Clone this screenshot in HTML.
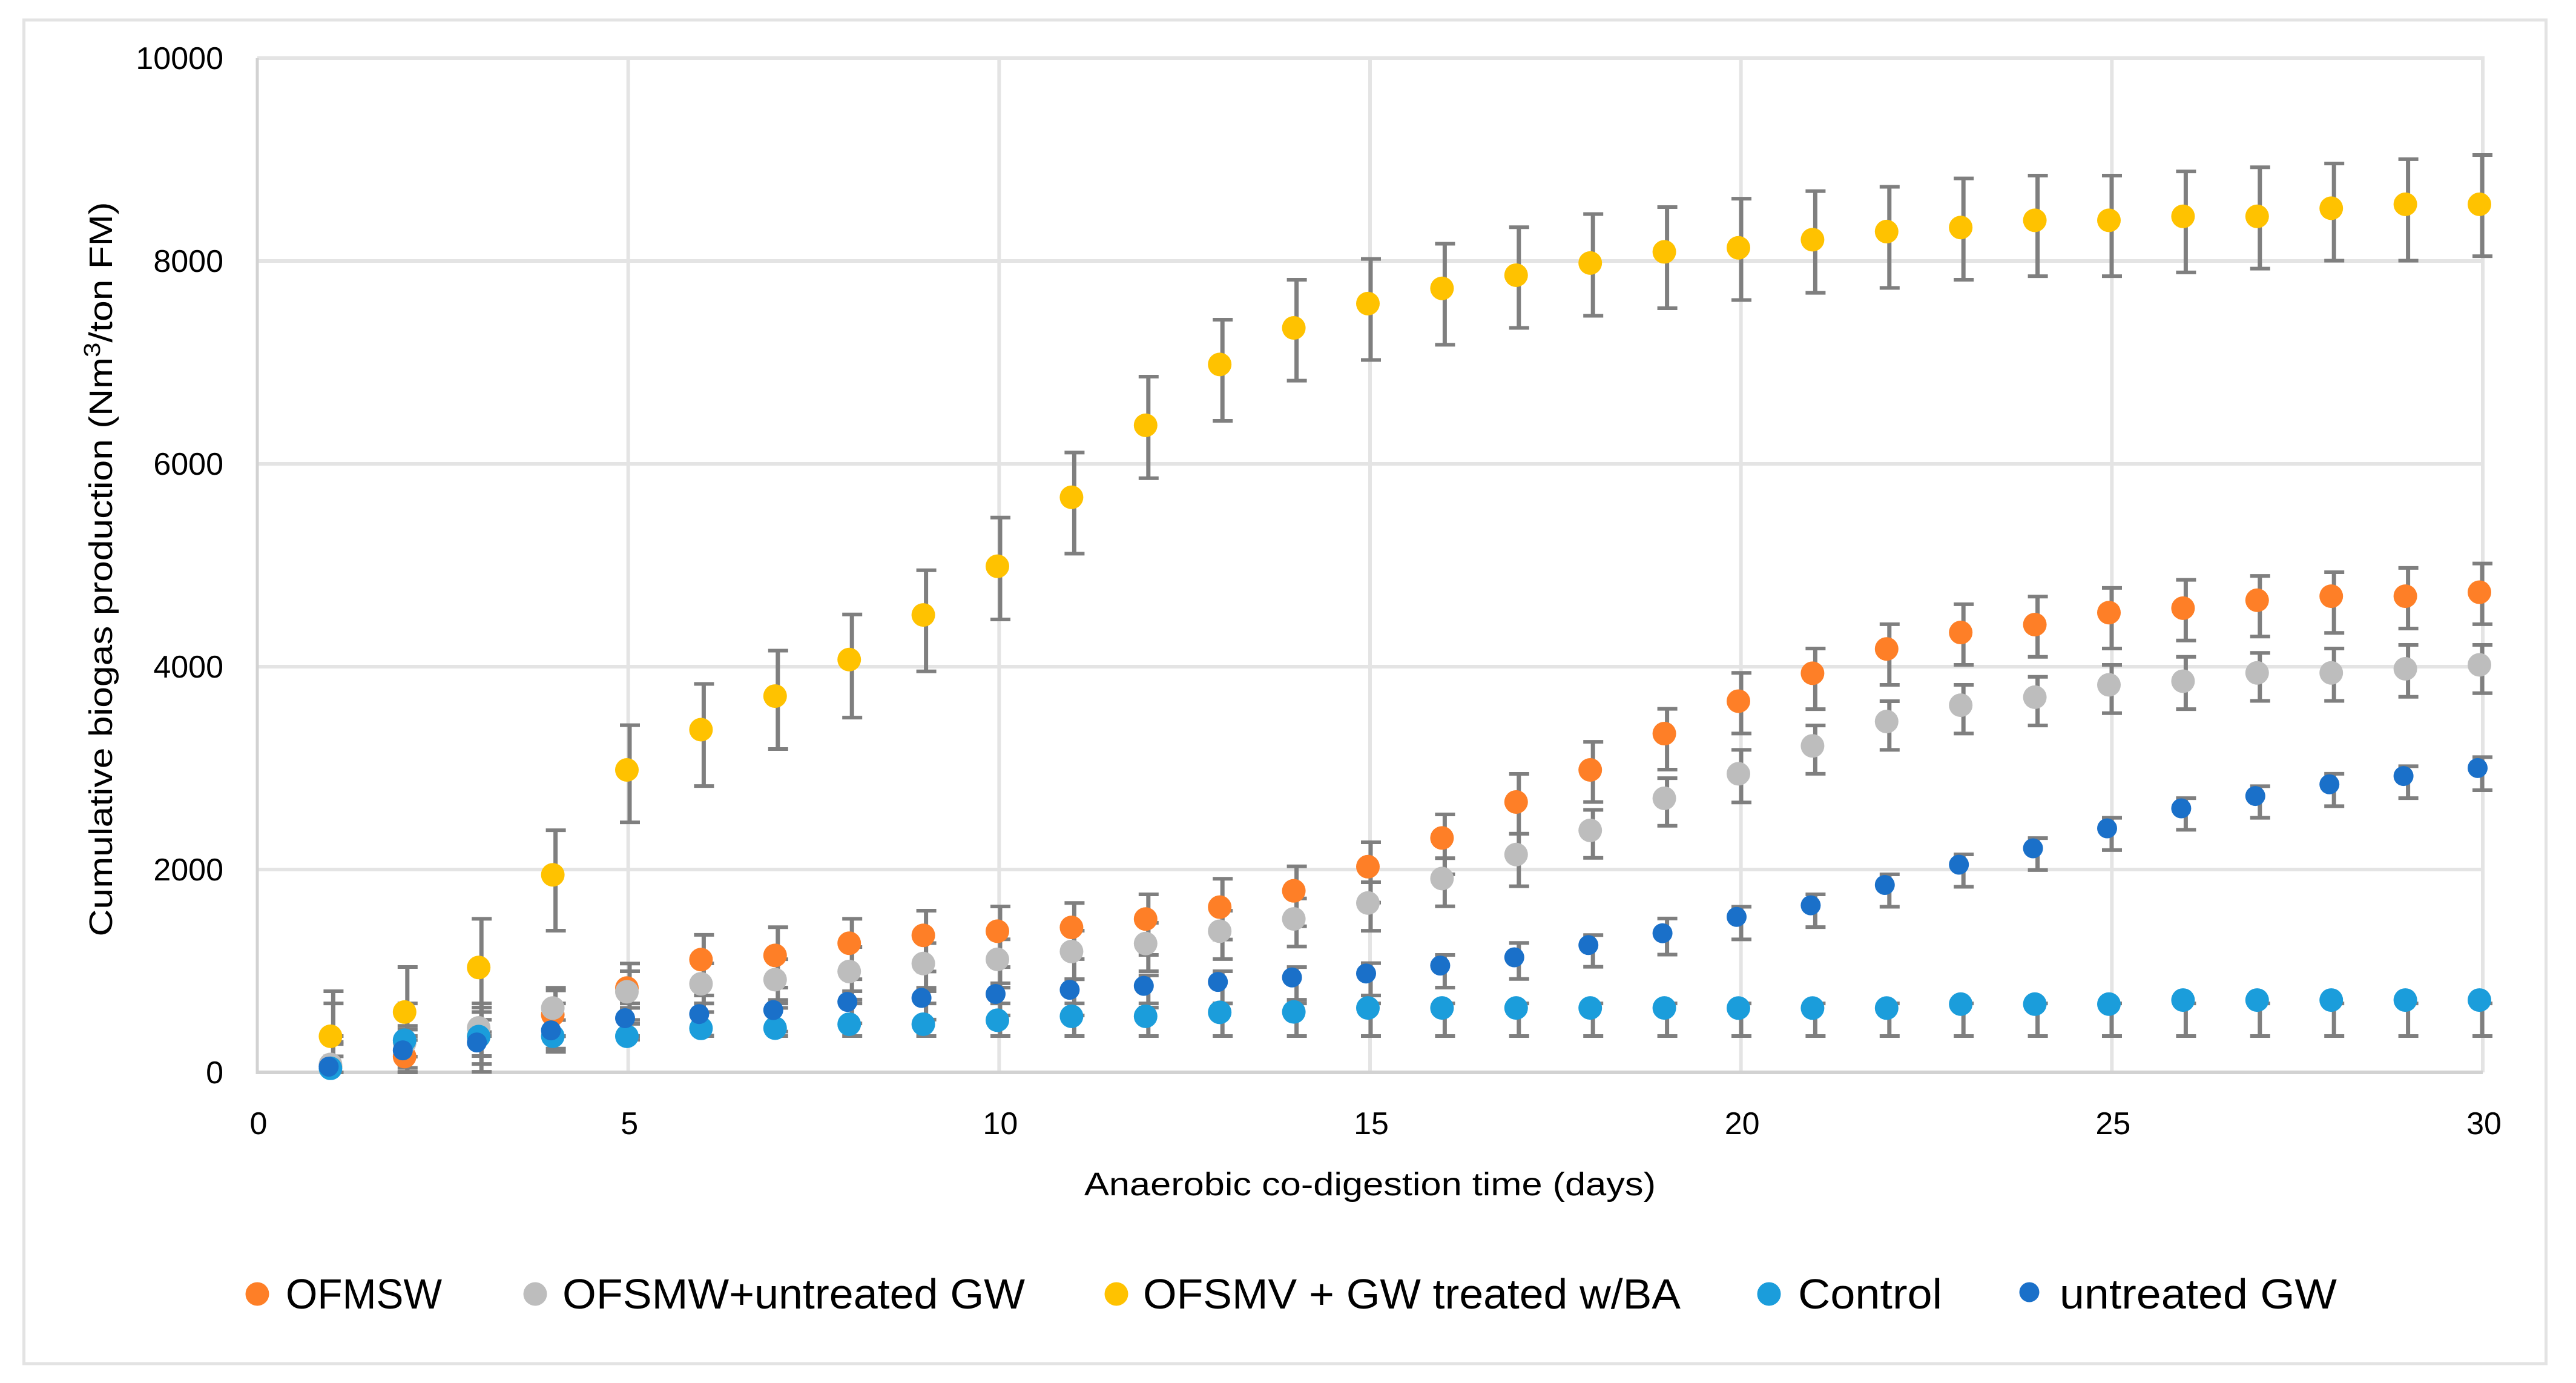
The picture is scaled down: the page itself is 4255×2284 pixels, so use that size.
<!DOCTYPE html>
<html lang="en">
<head>
<meta charset="utf-8">
<title>Cumulative biogas production</title>
<style>
html,body{margin:0;padding:0;background:#fff;}
svg{display:block;}
text{font-family:"Liberation Sans",sans-serif;fill:#000;}
</style>
</head>
<body>
<svg id="chart" xmlns="http://www.w3.org/2000/svg" width="4255" height="2284" viewBox="0 0 4255 2284">
  <rect x="0" y="0" width="4255" height="2284" fill="#fff"/>
  <rect x="39.5" y="33" width="4166" height="2219" fill="none" stroke="#E3E3E3" stroke-width="5"/>
  <g id="grid"></g>
  <g id="axes"></g>
  <g id="bars"></g>
  <g id="marks"></g>
  <g id="ticks" font-size="52"></g>
  <text transform="translate(185,940) rotate(-90)" text-anchor="middle" font-size="54" textLength="1213" lengthAdjust="spacingAndGlyphs">Cumulative biogas production (Nm<tspan font-size="38" dy="-20">3</tspan><tspan dy="20">/ton FM)</tspan></text>
  <text x="2263" y="1974" text-anchor="middle" font-size="54" textLength="944" lengthAdjust="spacingAndGlyphs">Anaerobic co-digestion time (days)</text>
  <g>
    <g>
      <circle cx="425" cy="2137" r="19.5" fill="#FE7F27"/>
      <text x="472" y="2161" font-size="70" textLength="258" lengthAdjust="spacingAndGlyphs">OFMSW</text>
    </g>
    <g>
      <circle cx="884" cy="2137" r="19.5" fill="#BDBDBD"/>
      <text x="929" y="2161" font-size="70" textLength="764" lengthAdjust="spacingAndGlyphs">OFSMW+untreated GW</text>
    </g>
    <g>
      <circle cx="1844" cy="2137" r="19.5" fill="#FFC200"/>
      <text x="1888" y="2161" font-size="70" textLength="888" lengthAdjust="spacingAndGlyphs">OFSMV + GW treated w/BA</text>
    </g>
    <g>
      <circle cx="2922" cy="2137" r="19.5" fill="#1B9DDB"/>
      <text x="2970" y="2161" font-size="70" textLength="238" lengthAdjust="spacingAndGlyphs">Control</text>
    </g>
    <g>
      <circle cx="3352" cy="2134" r="16.5" fill="#1A70C9"/>
      <text x="3402" y="2161" font-size="70" textLength="458" lengthAdjust="spacingAndGlyphs">untreated GW</text>
    </g>
  </g>
</svg>
<script>
// Categories and axis ticks
const days = [1,2,3,4,5,6,7,8,9,10,11,12,13,14,15,16,17,18,19,20,21,22,23,24,25,26,27,28,29,30];
const xTickLabels = [0,5,10,15,20,25,30];
const yTickLabels = [0,2000,4000,6000,8000,10000];

// OFMSW
const ofmswValues = [60,156,355,568,831,1112,1153,1273,1351,1392,1429,1512,1629,1790,2028,2311,2666,2982,3340,3660,3935,4175,4337,4415,4533,4577,4655,4695,4695,4734];
const ofmswErrUp = [240,266,240,240,242,244,278,241,243,244,241,243,280,241,241,232,277,277,244,279,244,244,279,276,244,279,240,236,279,283];
const ofmswErrDown = [350,350,350,334,353,354,317,354,356,354,312,354,319,350,354,358,313,316,355,319,354,354,319,318,354,319,358,362,319,315];

// OFSMW + untreated GW
const untreatedMixValues = [78,290,439,634,795,873,914,995,1073,1114,1192,1270,1392,1513,1670,1911,2148,2386,2702,2944,3219,3459,3620,3699,3821,3857,3939,3939,3979,4018];
const untreatedMixErrUp = [202,168,200,200,202,202,202,241,202,198,205,205,202,202,205,201,205,202,199,236,201,201,201,201,197,240,197,240,236,197];
const untreatedMixErrDown = [278,246,278,278,278,278,278,278,273,278,273,273,275,273,274,274,313,271,271,283,275,279,279,279,279,276,276,276,276,279];

// OFSMV + GW treated w/BA
const treatedMixValues = [356,595,1034,1948,2982,3379,3710,4070,4510,4990,5670,6380,6980,7340,7580,7730,7860,7980,8090,8130,8210,8290,8330,8401,8401,8440,8440,8520,8559,8559];
const treatedMixErrUp = [444,444,480,439,441,451,448,445,441,480,441,480,441,475,440,440,473,483,441,484,479,441,484,441,441,443,484,441,445,486];
const treatedMixErrDown = [520,440,515,551,517,556,522,572,556,524,556,522,556,520,556,556,520,520,556,515,524,556,515,551,551,553,515,517,556,512];

// Control
const controlValues = [40,317,353,356,356,434,436,475,475,514,553,553,592,596,635,635,635,635,635,634,634,634,673,673,673,713,713,713,713,713];
const controlErrUp = [640,363,327,324,324,246,244,205,205,166,127,127,88,84,45,45,45,45,45,46,46,46,7,7,7,-33,-33,-33,-33,-33];
const controlErrDown = [-318,-41,-5,-2,-2,76,78,117,117,156,195,195,234,238,277,277,277,277,277,276,276,276,315,315,315,355,355,355,355,355];

// Untreated GW
const untreatedGwValues = [56,217,295,414,534,575,614,695,734,773,814,853,892,936,975,1053,1134,1255,1372,1533,1647,1848,2048,2209,2406,2603,2725,2840,2922,3001];
const untreatedGwErrUp = [102,102,102,102,102,105,100,105,100,105,105,103,105,102,102,105,142,99,145,100,108,104,101,101,104,101,97,104,97,107];
const untreatedGwErrDown = [212,212,212,212,212,212,212,212,214,212,253,214,212,220,217,217,213,214,211,222,215,215,218,214,214,211,215,215,218,219];

// Axis functions
const NS = 'http://www.w3.org/2000/svg';
const xMax = 30, yMax = 10000;
const plotLeft = 425, plotRight = 4101, plotTop = 96, plotBottom = 1771;
function xScale(d){ return plotLeft + d / xMax * (plotRight - plotLeft); }
function yScale(v){ return plotBottom - v / yMax * (plotBottom - plotTop); }
function barX(d){ return 428 + d / xMax * (4100 - 428); }
function markerX(d){ return barX(d) - 4.5; }

function shape(tag, parent, attrs){
  const el = document.createElementNS(NS, tag);
  for (const k in attrs) el.setAttribute(k, attrs[k]);
  parent.appendChild(el);
  return el;
}

const gridG = document.getElementById('grid');
const axesG = document.getElementById('axes');
const barsG = document.getElementById('bars');
const marksG = document.getElementById('marks');
const ticksG = document.getElementById('ticks');

// Gridlines
yTickLabels.forEach(function(v){
  if (v === 0) return;
  const line = shape('line', gridG, {x1:plotLeft, x2:plotRight + 3, y1:yScale(v), y2:yScale(v), stroke:'#E4E4E4', 'stroke-width':6});
  
  
});
xTickLabels.forEach(function(d){
  if (d === 0) return;
  const line = shape('line', gridG, {x1:xScale(d), x2:xScale(d), y1:plotTop, y2:plotBottom, stroke:'#E4E4E4', 'stroke-width':6});
  
  
});

// Axes
const yAxisLine = shape('line', axesG, {x1:plotLeft, x2:plotLeft, y1:plotTop, y2:plotBottom + 3, stroke:'#D2D2D2', 'stroke-width':5});


const xAxisLine = shape('line', axesG, {x1:plotLeft, x2:plotRight, y1:plotBottom, y2:plotBottom, stroke:'#D2D2D2', 'stroke-width':6});



// Tick labels
yTickLabels.forEach(function(v){
  const t = shape('text', ticksG, {x:369, y:yScale(v) + 18, 'text-anchor':'end'});
  t.textContent = v;
  
  
});
xTickLabels.forEach(function(d){
  const t = shape('text', ticksG, {x:xScale(d) + 2, y:1873, 'text-anchor':'middle'});
  t.textContent = d;
  
  
});

// Series in draw order
const series = [
  {key:'ofmsw', values:ofmswValues, up:ofmswErrUp, down:ofmswErrDown, color:'#FE7F27', r:19.5, dx:0},
  {key:'untreated-mix', values:untreatedMixValues, up:untreatedMixErrUp, down:untreatedMixErrDown, color:'#BDBDBD', r:19.5, dx:0},
  {key:'treated-mix', values:treatedMixValues, up:treatedMixErrUp, down:treatedMixErrDown, color:'#FFC200', r:19.5, dx:0},
  {key:'control', values:controlValues, up:controlErrUp, down:controlErrDown, color:'#1B9DDB', r:19.5, dx:0},
  {key:'untreated-gw', values:untreatedGwValues, up:untreatedGwErrUp, down:untreatedGwErrDown, color:'#1A70C9', r:16.5, dx:-3}
];

// Error bars sit beneath every marker
series.forEach(function(s){
  days.forEach(function(d, i){
    const hi = Math.max(0, s.values[i] + s.up[i]);
    const lo = Math.max(0, s.values[i] - s.down[i]);
    const cx = barX(d);
    const stem = shape('line', barsG, {x1:cx, x2:cx, y1:yScale(hi), y2:yScale(lo), stroke:'#7F7F7F', 'stroke-width':7});
    
    
    const capHi = shape('line', barsG, {x1:cx - 16, x2:cx + 17, y1:yScale(hi), y2:yScale(hi), stroke:'#7F7F7F', 'stroke-width':6});
    
    
    const capLo = shape('line', barsG, {x1:cx - 16, x2:cx + 17, y1:yScale(lo), y2:yScale(lo), stroke:'#7F7F7F', 'stroke-width':6});
    
    
  });
});

// Markers
series.forEach(function(s){
  days.forEach(function(d, i){
    const dot = shape('circle', marksG, {cx:markerX(d) + s.dx, cy:yScale(s.values[i]), r:s.r, fill:s.color});
    
    
  });
});
</script>
</body>
</html>
